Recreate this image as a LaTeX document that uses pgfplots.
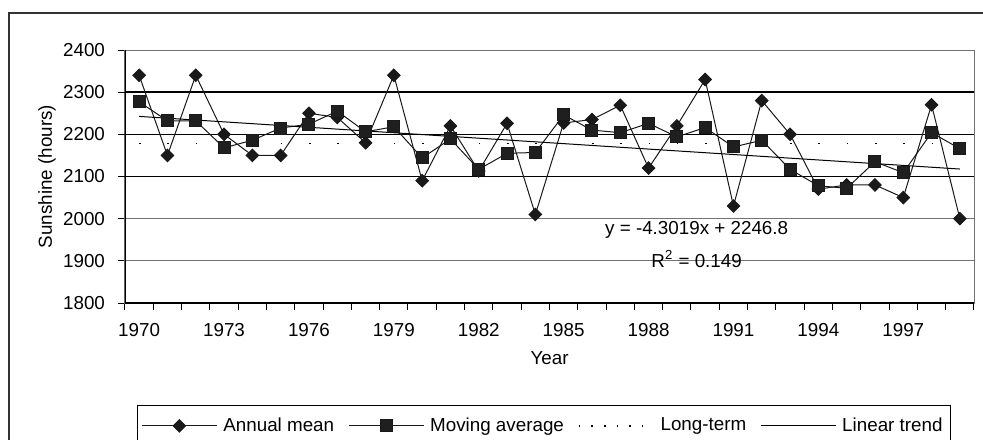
\documentclass[border=0pt]{standalone}
\usepackage{fontspec}
\setmainfont{Liberation Sans}
\usepackage{pgfplots}
\usepackage{pgfplotstable}
\pgfplotsset{compat=1.18}
\pgfplotstableread{
year annual moving
1970 2340 2277
1971 2150 2232
1972 2340 2232
1973 2200 2168
1974 2150 2186
1975 2150 2215
1976 2250 2224
1977 2240 2255
1978 2180 2206
1979 2340 2218
1980 2090 2144
1981 2220 2189
1982 2113 2117
1983 2226 2155
1984 2010 2157
1985 2227 2246
1986 2235 2210
1987 2269 2204
1988 2120 2226
1989 2220 2194
1990 2330 2216
1991 2030 2170
1992 2280 2186
1993 2200 2117
1994 2070 2078
1995 2080 2072
1996 2080 2135
1997 2050 2109
1998 2270 2204
1999 2000 2166
}\datatable
\begin{document}
\begin{tikzpicture}[font=\fontsize{9.4}{11}\selectfont]
\useasboundingbox (-62.5pt,-68pt) rectangle (429pt,151.5pt);
\clip (-62.5pt,-68pt) rectangle (429pt,151.5pt);
\draw[line width=1pt, black!80] (-58pt,-90pt) -- (-58pt,145pt) -- (450pt,145pt);
\begin{axis}[
  at={(0,0)}, anchor=south west,
  scale only axis, width=424.5pt, height=126.5pt,
  xmin=1969.5, xmax=1999.5, ymin=1800, ymax=2400,
  xtick={1969.5,1972.5,...,1996.5},
  xticklabels={1970,1973,1976,1979,1982,1985,1988,1991,1994,1997},
  xticklabel style={xshift=7.075pt, yshift=-3pt},
  minor xtick={1970.5,1971.5,...,1999.5},
  ytick={1800,1900,...,2400},
  yticklabels={1800,1900,2000,2100,2200,2300,2400},
  yticklabel style={xshift=-3pt},
  tick align=outside, tick pos=left,
  major tick length=3.5pt, minor tick length=3.5pt,
  tick style={black, line width=0.5pt},
  ymajorgrids, major grid style={black!55, line width=0.5pt},
  extra y ticks={2100,2200,2300},
  extra y tick labels={},
  extra y tick style={major grid style={black, line width=0.8pt}},
  axis line style={black!55, line width=0.5pt},
  xlabel={Year},
  xlabel style={at={(axis description cs:0.5,0)}, anchor=center, yshift=-27.5pt},
  ylabel={Sunshine (hours)},
  ylabel style={at={(axis description cs:-0.0919,0.5)}, anchor=center},
  legend columns=4,
  legend style={at={(axis description cs:0.4935,-0.403)}, anchor=north,
    draw=black, line width=0.6pt, fill=white, inner xsep=2pt, inner ysep=4pt,
    /tikz/every even column/.append style={column sep=5pt},
    /tikz/every odd column/.append style={column sep=1pt},
    font=\fontsize{9.4}{11}\selectfont},
  legend image code/.code={\draw[mark repeat=2,mark phase=2,#1] plot coordinates {(0pt,0pt) (18.75pt,0pt) (37.5pt,0pt)};},
]
\addplot[black!90, line width=0.5pt, mark=square*, mark size=2.2pt,
  mark options={rotate=45, fill=black!90, solid}]
  table[x=year, y=annual]{\datatable};
\addlegendentry{Annual mean}
\addplot[black!90, line width=0.5pt, mark=square*, mark size=3pt,
  mark options={fill=black!88, solid}]
  table[x=year, y=moving]{\datatable};
\addlegendentry{Moving average}
\addplot[black, line width=0.8pt, dash pattern=on 0.8pt off 13.35pt,
  legend image code/.code={\draw[black, line width=0.8pt, dash pattern=on 0.8pt off 5.5pt] (0pt,0pt) -- (37.5pt,0pt);}]
  coordinates {(1970,2178) (1999,2178)};
\addlegendentry{Long-term}
\addplot[black, line width=0.5pt] coordinates {(1970,2242.5) (1999,2117.7)};
\addlegendentry{Linear trend}
\draw[black, line width=0.6pt] (rel axis cs:0,1) -- (rel axis cs:0,0) -- (rel axis cs:1,0);
\node at (axis cs:1989.7,1973) {y = -4.3019x + 2246.8};
\node at (axis cs:1989.7,1904) {R\textsuperscript{2} = 0.149};
\end{axis}
\end{tikzpicture}
\end{document}
